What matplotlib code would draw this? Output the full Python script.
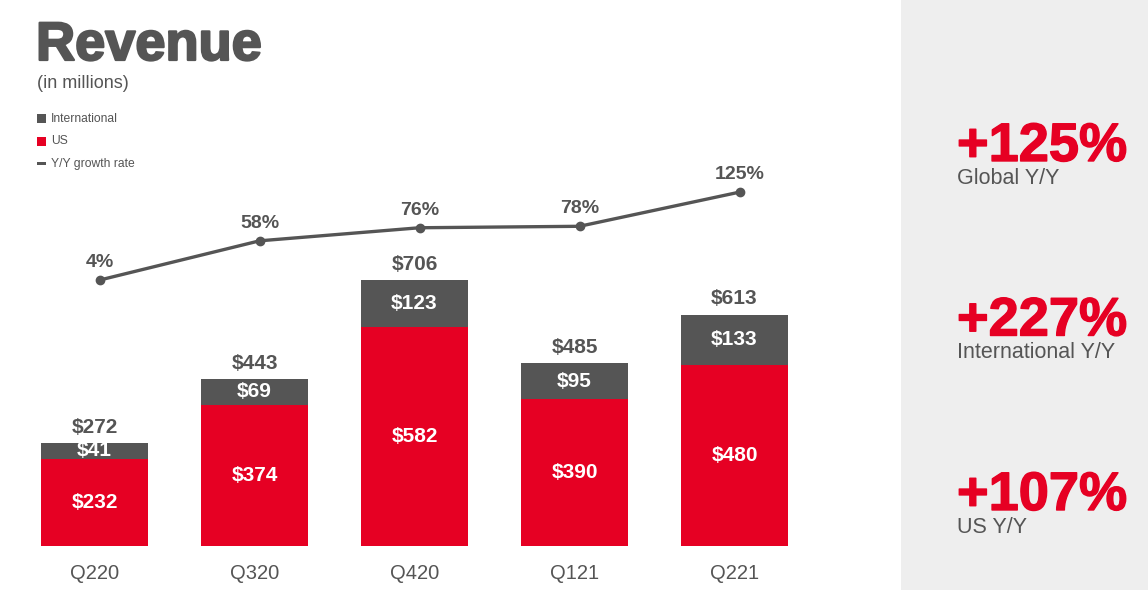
import numpy as np
import matplotlib
matplotlib.use("Agg")
import matplotlib.pyplot as plt
import matplotlib.patheffects as pe
from matplotlib.patches import Rectangle
from matplotlib.transforms import offset_copy

plt.rcParams['font.family'] = ['Liberation Sans', 'DejaVu Sans']

quarters = ['Q220', 'Q320', 'Q420', 'Q121', 'Q221']
us = [232, 374, 582, 390, 480]
intl = [41, 69, 123, 95, 133]
total = [272, 443, 706, 485, 613]
growth = [4, 58, 76, 78, 125]

highlights = ['+125%', '+227%', '+107%']
highlight_labels = ['Global Y/Y', 'International Y/Y', 'US Y/Y']

RED = '#e60023'
GRAY = '#555555'
W, H = 1148, 590


def fx(x):
    return x / W


def fy(y):
    return 1 - y / H


fig = plt.figure(figsize=(W / 100, H / 100), dpi=100)

# right side grey panel
fig.patches.append(Rectangle((fx(901), 0), 1 - fx(901), 1, transform=fig.transFigure,
                             facecolor='#eeeeee', edgecolor='none', zorder=0))

# title and legend
fig.text(fx(36), fy(60), 'Revenue', fontsize=39, fontweight='bold', color=GRAY,
         va='baseline', ha='left',
         path_effects=[pe.withStroke(linewidth=1.6, foreground=GRAY)])
fig.text(fx(37), fy(84), '(in millions)', fontsize=13, color=GRAY, va='center', ha='left')

leg_items = [('International', 'sq', GRAY), ('US', 'sq', RED), ('Y/Y growth rate', 'dash', GRAY)]
for i, (lab, kind, c) in enumerate(leg_items):
    yc = 118.5 + i * 22.5
    if kind == 'sq':
        fig.patches.append(Rectangle((fx(37), fy(yc + 4.5)), fx(9), 9 / H,
                                     transform=fig.transFigure, facecolor=c, edgecolor='none'))
    else:
        fig.patches.append(Rectangle((fx(37), fy(yc + 1.5)), fx(9), 3 / H,
                                     transform=fig.transFigure, facecolor=c, edgecolor='none'))
    fig.text(fx(51), fy(yc), lab, fontsize=8.7, color=GRAY, va='center', ha='left')

# main bar axes
ax = fig.add_axes([fx(14.5), fy(546), fx(800), 446 / H])
ax.set_xlim(-0.5, 4.5)
ax.set_ylim(0, 446 / 0.377)
x = np.arange(len(quarters))
bw = 0.67
ax.bar(x, us, bw, color=RED, zorder=2)
ax.bar(x, intl, bw, bottom=us, color=GRAY, zorder=2)

for i in range(len(quarters)):
    ax.text(x[i], us[i] / 2, f'${us[i]}', ha='center', va='center', color='white',
            fontsize=15, fontweight='bold')
    ax.text(x[i], us[i] + intl[i] / 2, f'${intl[i]}', ha='center', va='center',
            color='white', fontsize=15, fontweight='bold')
    ax.annotate(f'${total[i]}', (x[i], us[i] + intl[i]), xytext=(0, 11.5),
                textcoords='offset points', ha='center', va='center', color=GRAY,
                fontsize=15, fontweight='bold')

ax.set_xticks(x)
ax.set_xticklabels(quarters, fontsize=14.5, color=GRAY)
ax.tick_params(axis='x', length=0, pad=13)
ax.set_yticks([])
for s in ax.spines.values():
    s.set_visible(False)
ax.patch.set_alpha(0)

# growth rate line (sits slightly right of bar centres in the original)
ax2 = ax.twinx()
ax2.set_ylim((283 - 546) / 0.727, (283 - 100) / 0.727)
line_tr = offset_copy(ax2.transData, fig=fig, x=5, y=0, units='dots')
ax2.plot(x, growth, color=GRAY, lw=2.4, marker='o', ms=6, zorder=3, transform=line_tr)
for i, g in enumerate(growth):
    ax2.annotate(f'{g}%', (x[i], g), xycoords=line_tr, xytext=(0, 12.5),
                 textcoords='offset points', ha='center', va='center', color=GRAY,
                 fontsize=14, fontweight='bold')
ax2.set_yticks([])
for s in ax2.spines.values():
    s.set_visible(False)

# right side highlights
for i, (big, small) in enumerate(zip(highlights, highlight_labels)):
    base = 161 + i * 174.5
    fig.text(fx(957), fy(base), big, fontsize=39, fontweight='bold', color=RED,
             ha='left', va='baseline',
             path_effects=[pe.withStroke(linewidth=1.0, foreground=RED)])
    fig.text(fx(957), fy(base + 23), small, fontsize=15.5, color=GRAY,
             ha='left', va='baseline')

fig.savefig('out.png', dpi=100)
